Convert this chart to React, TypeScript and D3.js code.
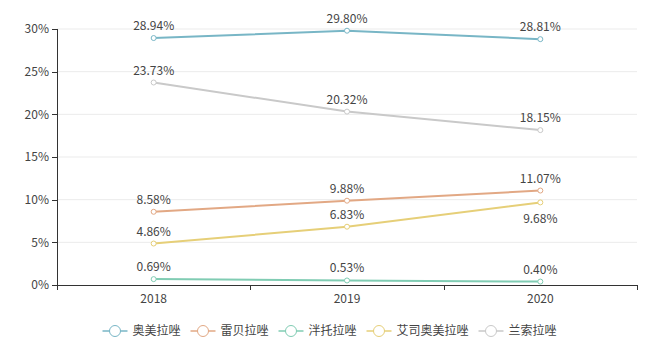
import React from 'react';
import { scaleBand, scaleLinear, line } from 'd3';

const years = ['2018', '2019', '2020'];
const seriesNames = ['奥美拉唑', '雷贝拉唑', '泮托拉唑', '艾司奥美拉唑', '兰索拉唑'];
const omeprazole = [28.94, 29.8, 28.81];
const rabeprazole = [8.58, 9.88, 11.07];
const pantoprazole = [0.69, 0.53, 0.4];
const esomeprazole = [4.86, 6.83, 9.68];
const lansoprazole = [23.73, 20.32, 18.15];
const yTicks = [0, 5, 10, 15, 20, 25, 30];

const colors = ['#78b6c6', '#e2a884', '#80ccb3', '#e6cf78', '#c9c9c9'];
const seriesValues = [omeprazole, rabeprazole, pantoprazole, esomeprazole, lansoprazole];

const W = 653;
const H = 354;
const left = 57;
const right = 637;
const top = 29;
const bottom = 285;
const font = '"Microsoft YaHei", "Noto Sans CJK SC", sans-serif';
const textColor = '#444';

const App = () => {
  const x = scaleBand<string>().domain(years).range([left, right]);
  const y = scaleLinear().domain([0, 30]).range([bottom, top]);
  const cx = (d: string) => (x(d) as number) + x.bandwidth() / 2;

  const lineGen = line<number>()
    .x((_, i) => cx(years[i]))
    .y((v) => y(v));

  // legend layout (centered)
  const charW = 12;
  const iconW = 25;
  const items = seriesNames.map((n) => iconW + 5 + n.length * charW);
  const total = items.reduce((a, b) => a + b, 0) + 10 * (items.length - 1);
  let lx = W / 2 - total / 2 + 3;
  const legendPos = items.map((w) => {
    const p = lx;
    lx += w + 10;
    return p;
  });
  const ly = 331;

  return (
    <svg width={W} height={H} style={{ position: 'absolute', left: 0, top: 0, fontFamily: font }}>
      <rect width={W} height={H} fill="#fff" />
      {/* grid */}
      {yTicks.slice(1).map((t) => (
        <line key={t} x1={left} x2={right} y1={y(t)} y2={y(t)} stroke="#ebebeb" strokeWidth={1} />
      ))}
      {/* y axis */}
      <line x1={left + 0.5} x2={left + 0.5} y1={top} y2={bottom} stroke="#333" strokeWidth={1} />
      {yTicks.map((t) => (
        <g key={t}>
          <line x1={left - 5} x2={left} y1={Math.round(y(t)) + 0.5} y2={Math.round(y(t)) + 0.5} stroke="#333" />
          <text x={left - 8} y={y(t)} dy="0.35em" textAnchor="end" fontSize={12} fill={textColor}>
            {t}%
          </text>
        </g>
      ))}
      {/* x axis */}
      <line x1={left} x2={right} y1={bottom + 0.5} y2={bottom + 0.5} stroke="#333" strokeWidth={1} />
      {[...years.map((d) => x(d) as number), right].map((t, i) => (
        <line key={i} x1={Math.round(t) + 0.5} x2={Math.round(t) + 0.5} y1={bottom} y2={bottom + 5} stroke="#333" />
      ))}
      {years.map((d) => (
        <text key={d} x={cx(d)} y={bottom + 18} textAnchor="middle" fontSize={12} fill={textColor}>
          {d}
        </text>
      ))}
      {/* series */}
      {seriesValues.map((vals, s) => (
        <g key={s}>
          <path d={lineGen(vals) || ''} fill="none" stroke={colors[s]} strokeWidth={2} />
          {vals.map((v, i) => (
            <circle key={i} cx={cx(years[i])} cy={y(v)} r={2.5} fill="#fff" stroke={colors[s]} strokeWidth={1} />
          ))}
          {vals.map((v, i) => {
            const below = s === 3 && i === 2;
            return (
              <text
                key={'l' + i}
                x={cx(years[i])}
                y={below ? y(v) + 16 : y(v) - 8}
                dy={below ? '0.35em' : '0'}
                textAnchor="middle"
                fontSize={12}
                fill={textColor}
              >
                {v.toFixed(2)}%
              </text>
            );
          })}
        </g>
      ))}
      {/* legend */}
      {seriesNames.map((n, s) => (
        <g key={n} transform={`translate(${legendPos[s]},${ly})`}>
          <line x1={0} x2={iconW} y1={0} y2={0} stroke={colors[s]} strokeWidth={1.5} />
          <circle cx={iconW / 2} cy={0} r={5.5} fill="#fff" stroke={colors[s]} strokeWidth={1} />
          <text x={iconW + 5} y={0} dy="0.35em" fontSize={12} fill={textColor}>
            {n}
          </text>
        </g>
      ))}
    </svg>
  );
};

export default App;
